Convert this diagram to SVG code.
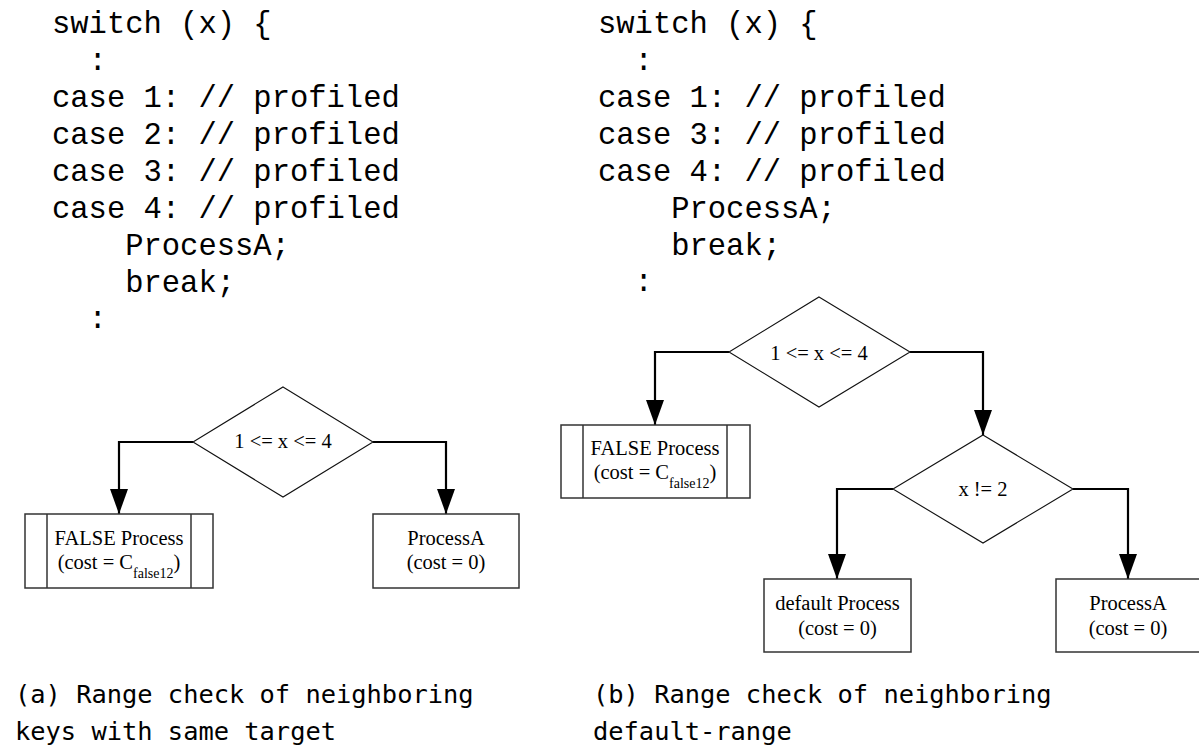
<svg xmlns="http://www.w3.org/2000/svg" width="1199" height="747" viewBox="0 0 1199 747">
  <style>
    .code { font-family: "Liberation Mono", "Courier New", monospace; font-size: 30.5px; fill: #000; }
    .cap { font-family: "DejaVu Sans Mono", monospace; font-size: 25.4px; fill: #000; }
    .lbl { font-family: "Liberation Serif", "Times New Roman", serif; font-size: 20.5px; fill: #000; text-anchor: middle; }
    .sub { font-size: 14px; }
    .box { fill: #fff; stroke: #333; stroke-width: 1.5; }
    .dia { fill: #fff; stroke: #111; stroke-width: 1.1; }
    .edge { fill: none; stroke: #000; stroke-width: 2.2; marker-end: url(#arrow); }
  </style>
  <defs>
    <marker id="arrow" viewBox="0 0 25 18" refX="25" refY="9" markerWidth="25" markerHeight="18" markerUnits="userSpaceOnUse" orient="auto">
      <path d="M0,0 L25,9 L0,18 Z" fill="#000"/>
    </marker>
  </defs>
  <rect width="1199" height="747" fill="#fff"/>

  <!-- source listing, variant (a) -->
  <g id="code-a" class="code">
    <text x="52" y="33">switch (x) {</text>
    <text x="88.6" y="70">:</text>
    <text x="52" y="107">case 1: // profiled</text>
    <text x="52" y="144">case 2: // profiled</text>
    <text x="52" y="181">case 3: // profiled</text>
    <text x="52" y="218">case 4: // profiled</text>
    <text x="125.2" y="255">ProcessA;</text>
    <text x="125.2" y="292">break;</text>
    <text x="88.6" y="328">:</text>
  </g>

  <!-- source listing, variant (b) -->
  <g id="code-b" class="code">
    <text x="598" y="33">switch (x) {</text>
    <text x="634.6" y="70">:</text>
    <text x="598" y="107">case 1: // profiled</text>
    <text x="598" y="144">case 3: // profiled</text>
    <text x="598" y="181">case 4: // profiled</text>
    <text x="671.2" y="218">ProcessA;</text>
    <text x="671.2" y="255">break;</text>
    <text x="634.6" y="291">:</text>
  </g>

  <!-- connectors -->
  <g id="connectors">
    <path class="edge" d="M193,442 H119 V514"/>
    <path class="edge" d="M373,442 H446 V514"/>
    <path class="edge" d="M729,352 H655 V425"/>
    <path class="edge" d="M910,352 H983 V435"/>
    <path class="edge" d="M893,489 H837 V579"/>
    <path class="edge" d="M1073,489 H1128 V579"/>
  </g>

  <!-- flowchart (a) -->
  <g id="a-range-check">
    <polygon class="dia" points="283,387 373,442 283,497 193,442"/>
    <text class="lbl" x="283" y="448">1 &lt;= x &lt;= 4</text>
  </g>
  <g id="a-false-process">
    <rect class="box" x="25" y="514" width="188" height="74"/>
    <line class="box" x1="47" y1="514" x2="47" y2="588"/>
    <line class="box" x1="191" y1="514" x2="191" y2="588"/>
    <text class="lbl" x="119" y="545">FALSE Process</text>
    <text class="lbl" x="119" y="569">(cost = C<tspan class="sub" dy="9">false12</tspan><tspan dy="-9">)</tspan></text>
  </g>
  <g id="a-process-a">
    <rect class="box" x="373" y="514" width="146" height="74"/>
    <text class="lbl" x="446" y="545">ProcessA</text>
    <text class="lbl" x="446" y="569">(cost = 0)</text>
  </g>

  <!-- flowchart (b) -->
  <g id="b-range-check">
    <polygon class="dia" points="819,297 910,352 819,407 729,352"/>
    <text class="lbl" x="819" y="360">1 &lt;= x &lt;= 4</text>
  </g>
  <g id="b-false-process">
    <rect class="box" x="561" y="425" width="189" height="73"/>
    <line class="box" x1="583" y1="425" x2="583" y2="498"/>
    <line class="box" x1="727" y1="425" x2="727" y2="498"/>
    <text class="lbl" x="655" y="455">FALSE Process</text>
    <text class="lbl" x="655" y="479">(cost = C<tspan class="sub" dy="9">false12</tspan><tspan dy="-9">)</tspan></text>
  </g>
  <g id="b-not-two">
    <polygon class="dia" points="983,435 1073,489 983,543 893,489"/>
    <text class="lbl" x="983" y="496">x != 2</text>
  </g>
  <g id="b-default-process">
    <rect class="box" x="764" y="579" width="147" height="73"/>
    <text class="lbl" x="837.5" y="610">default Process</text>
    <text class="lbl" x="837.5" y="635">(cost = 0)</text>
  </g>
  <g id="b-process-a">
    <rect class="box" x="1056" y="579" width="146" height="73"/>
    <text class="lbl" x="1128" y="610">ProcessA</text>
    <text class="lbl" x="1128" y="635">(cost = 0)</text>
  </g>

  <!-- captions -->
  <g id="captions" class="cap">
    <text x="15" y="703">(a) Range check of neighboring</text>
    <text x="15" y="740">keys with same target</text>
    <text x="593" y="703">(b) Range check of neighboring</text>
    <text x="593" y="740">default-range</text>
  </g>
</svg>
